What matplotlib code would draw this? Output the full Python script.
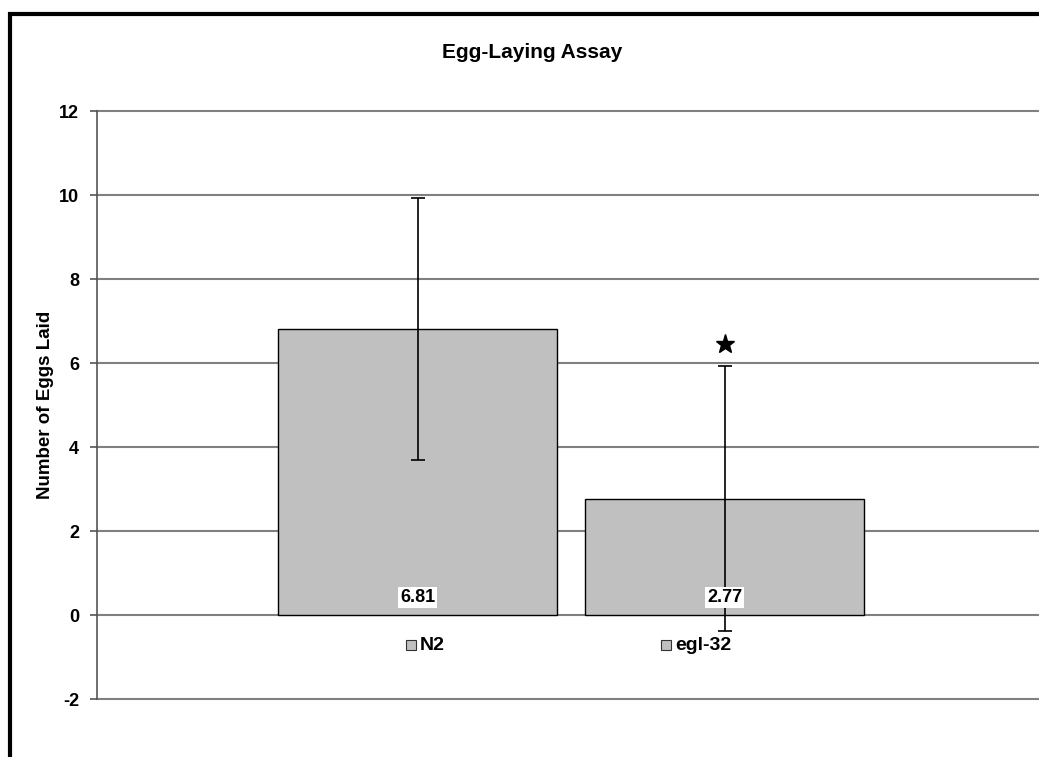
import matplotlib
matplotlib.use("Agg")
import matplotlib.pyplot as plt
from matplotlib.patches import Rectangle

plt.rcParams["font.family"] = ["Liberation Sans", "DejaVu Sans"]

categories = ["N2", "egl-32"]
means = [6.81, 2.77]
errors = [3.11, 3.16]
value_labels = ["6.81", "2.77"]
star_value = 6.45
yticks = [-2, 0, 2, 4, 6, 8, 10, 12]

W, H = 1039, 757
fig = plt.figure(figsize=(W / 100, H / 100), dpi=100)
fig.patch.set_facecolor("white")

ax = fig.add_axes([97 / W, 1 - 699 / H, (1039 - 97) / W, (699 - 111) / H])
ax.set_xlim(-1.044, 2.024)
ax.set_ylim(-2, 12)

x = list(range(len(categories)))
ax.set_axisbelow(True)
ax.yaxis.grid(True, color="#808080", lw=1.5)
for gl in ax.get_ygridlines():
    gl.set_clip_on(False)
ax.bar(x, means, width=0.909, color="#C0C0C0", edgecolor="black", lw=1.0, zorder=2)
ax.errorbar(x, means, yerr=errors, fmt="none", ecolor="black", elinewidth=1.2,
            capsize=5, capthick=1.2, zorder=3)

for xi, lab in zip(x, value_labels):
    ax.text(xi, 0.42, lab, ha="center", va="center", fontsize=13, fontweight="bold",
            bbox=dict(facecolor="white", edgecolor="none", pad=1.5), zorder=4)

ax.plot([1], [star_value], marker="*", color="black", markersize=14, zorder=4)

ax.set_yticks(yticks)
ax.set_yticklabels([str(v) for v in yticks], fontsize=13, fontweight="bold")
ax.set_xticks([])
for s in ["top", "right", "bottom"]:
    ax.spines[s].set_visible(False)
ax.spines["left"].set_color("#555555")
ax.spines["left"].set_linewidth(1.2)
ax.tick_params(axis="y", direction="out", length=5, color="#555555", width=1.2, pad=8)

ax.yaxis.set_label_coords((46 - 97) / (1039 - 97), 0.5)
ax.set_ylabel("Number of Eggs Laid", fontsize=13.5, fontweight="bold", va="center")

fig.text(532 / W, 1 - 52 / H, "Egg-Laying Assay", ha="center", va="center",
         fontsize=15, fontweight="bold")

# legend-like category labels
leg_pos = [(406, 645), (661, 645)]
for (px, py), name in zip(leg_pos, categories):
    fig.patches.append(Rectangle((px / W, 1 - (py + 5) / H), 10 / W, 10 / H,
                                 transform=fig.transFigure, facecolor="#C0C0C0",
                                 edgecolor="#333333", lw=0.8))
    fig.text((px + 14) / W, 1 - py / H, name, ha="left", va="center",
             fontsize=14, fontweight="bold")

# outer frame (extends beyond right/bottom edges)
fig.patches.append(Rectangle((10 / W, -0.1), 1.2, 1 - 13.5 / H + 0.1,
                             transform=fig.transFigure, facecolor="none",
                             edgecolor="black", lw=3.0))

fig.savefig("out.png", dpi=100)
